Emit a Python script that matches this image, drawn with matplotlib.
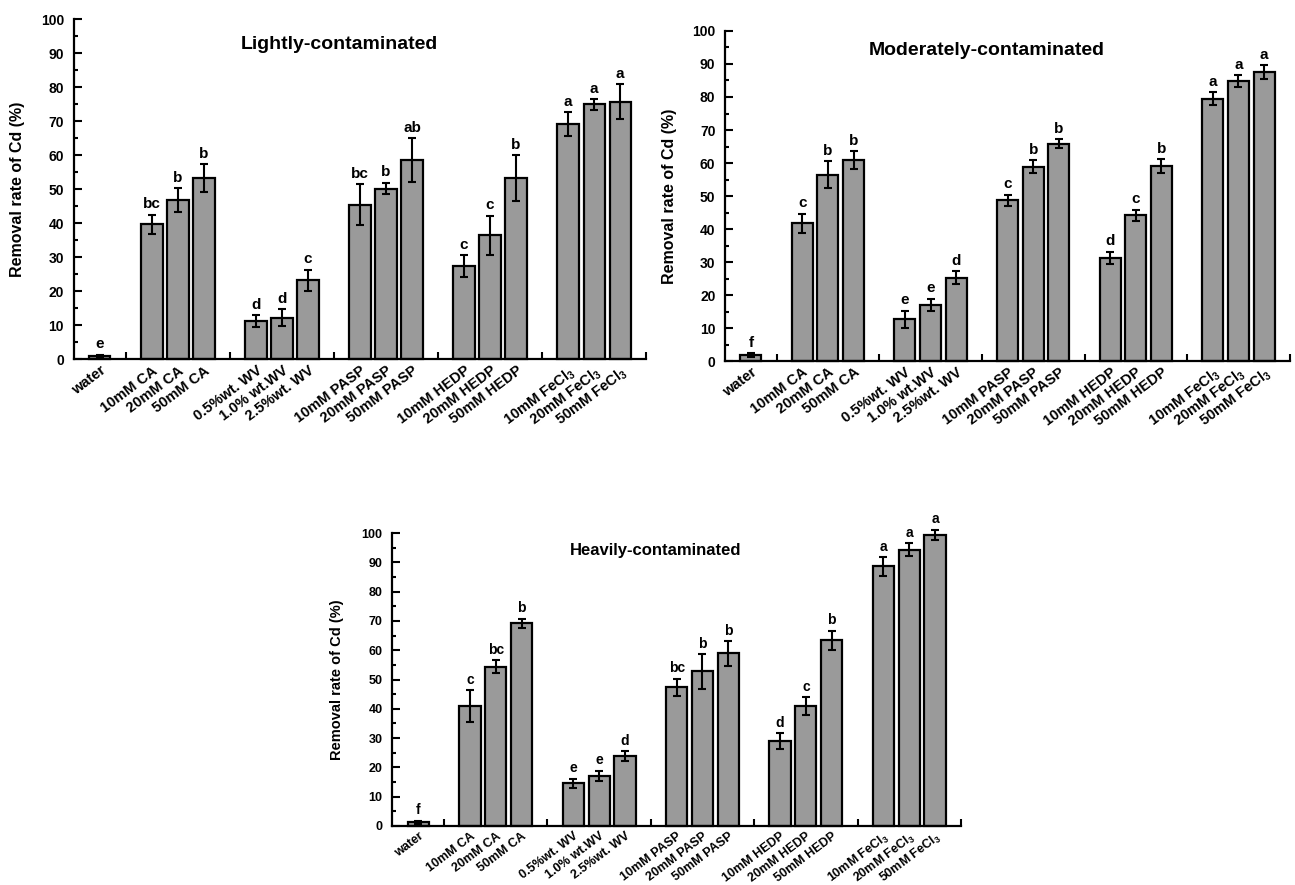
import numpy as np
import matplotlib
matplotlib.use("Agg")
import matplotlib.pyplot as plt
import matplotlib.transforms as mtransforms

plt.rcParams['font.family'] = ['Liberation Sans', 'DejaVu Sans']
plt.rcParams['font.weight'] = 'bold'
plt.rcParams['mathtext.fontset'] = 'custom'
plt.rcParams['mathtext.rm'] = 'Liberation Sans:bold'
plt.rcParams['mathtext.bf'] = 'Liberation Sans:bold'

# treatments
labels = ['water', '10mM CA', '20mM CA', '50mM CA',
          '0.5%wt. WV', '1.0% wt.WV', '2.5%wt. WV',
          '10mM PASP', '20mM PASP', '50mM PASP',
          '10mM HEDP', '20mM HEDP', '50mM HEDP',
          '10mM FeCl$_3$', '20mM FeCl$_3$', '50mM FeCl$_3$']
group_sizes = [1, 3, 3, 3, 3, 3]

# lightly-contaminated soil
light_mean = [0.9, 39.7, 46.8, 53.3, 11.3, 12.3, 23.3, 45.5, 50.2, 58.6, 27.4, 36.5, 53.3, 69.2, 75.0, 75.8]
light_err = [0.4, 2.8, 3.5, 4.1, 1.7, 2.4, 3.1, 6.0, 1.7, 6.5, 3.2, 5.7, 6.8, 3.5, 1.5, 5.1]
light_sig = ['e', 'bc', 'b', 'b', 'd', 'd', 'c', 'bc', 'b', 'ab', 'c', 'c', 'b', 'a', 'a', 'a']

# moderately-contaminated soil
mod_mean = [1.7, 41.7, 56.5, 60.9, 12.6, 17.1, 25.2, 48.7, 58.9, 65.8, 31.3, 44.2, 59.1, 79.5, 84.8, 87.6]
mod_err = [0.6, 3.0, 4.1, 2.7, 2.6, 1.8, 2.0, 1.7, 2.0, 1.4, 1.8, 1.7, 2.1, 1.9, 1.8, 2.1]
mod_sig = ['f', 'c', 'b', 'b', 'e', 'e', 'd', 'c', 'b', 'b', 'd', 'c', 'b', 'a', 'a', 'a']

# heavily-contaminated soil
heavy_mean = [1.2, 41.0, 54.3, 69.2, 14.5, 17.0, 23.9, 47.3, 52.8, 58.9, 29.0, 40.9, 63.4, 88.6, 94.3, 99.4]
heavy_err = [0.6, 5.4, 2.2, 1.6, 1.6, 1.8, 1.7, 3.0, 5.9, 4.2, 2.7, 3.1, 3.3, 3.1, 2.2, 1.8]
heavy_sig = ['f', 'c', 'bc', 'b', 'e', 'e', 'd', 'bc', 'b', 'b', 'd', 'c', 'b', 'a', 'a', 'a']

# bar positions: one empty slot between groups
pos = []
gaps = []
x = 0
for n in group_sizes:
    x += 1
    for i in range(n):
        pos.append(x)
        x += 1
    gaps.append(x)
pos = np.array(pos)

fig = plt.figure(figsize=(12.95, 8.85), dpi=100)


def draw_panel(rect, mean, err, sig, title, fs, xfs, title_fs, title_y):
    ax = fig.add_axes(rect)
    ax.bar(pos, mean, width=0.82, color='#9a9a9a', edgecolor='black',
           linewidth=1.6, clip_on=False, zorder=2)
    ax.errorbar(pos, mean, yerr=err, fmt='none', ecolor='black',
                elinewidth=1.5, capsize=3, capthick=1.5, clip_on=False, zorder=3)
    for xi, m, e, s in zip(pos, mean, err, sig):
        ax.annotate(s, (xi, m + e), xytext=(0, 2.5), textcoords='offset points',
                    ha='center', va='bottom', fontsize=fs + 1,
                    fontweight='bold', annotation_clip=False)
    ax.set_xlim(0, 22)
    ax.set_ylim(0, 100)
    ax.set_yticks(np.arange(0, 101, 10))
    ax.set_yticks(np.arange(5, 100, 10), minor=True)
    ax.set_xticks(pos)
    ax.set_xticklabels(labels, rotation=37, ha='right', va='top',
                       rotation_mode='anchor', fontsize=xfs, fontweight='bold')
    ax.set_xticks(gaps, minor=True)
    offset = mtransforms.ScaledTranslation(8 / 100, 0, fig.dpi_scale_trans)
    for lab in ax.get_xticklabels():
        lab.set_transform(lab.get_transform() + offset)
    for lab in ax.get_yticklabels():
        lab.set_fontweight('bold')
        lab.set_fontsize(fs)
    ax.tick_params(axis='y', which='major', direction='in', length=5.5, width=1.5, pad=7)
    ax.tick_params(axis='y', which='minor', direction='in', length=3, width=1.5)
    ax.tick_params(axis='x', which='major', direction='in', length=3, width=1.5, pad=3)
    ax.tick_params(axis='x', which='minor', direction='in', length=5, width=1.5)
    for sp in ['top', 'right']:
        ax.spines[sp].set_visible(False)
    for sp in ['left', 'bottom']:
        ax.spines[sp].set_linewidth(1.6)
    ax.set_ylabel('Removal rate of Cd (%)', fontsize=fs + 1.5, fontweight='bold')
    ax.yaxis.set_label_coords(-0.085, 0.5)
    ax.text(10.2, title_y, title, ha='center', va='center', fontsize=title_fs, fontweight='bold')
    return ax


draw_panel([0.057, 0.594, 0.442, 0.384], light_mean, light_err, light_sig,
           'Lightly-contaminated', 10, 10.5, 14, 92.5)
draw_panel([0.560, 0.592, 0.436, 0.373], mod_mean, mod_err, mod_sig,
           'Moderately-contaminated', 10, 10.5, 14, 94)
draw_panel([0.303, 0.0667, 0.439, 0.331], heavy_mean, heavy_err, heavy_sig,
           'Heavily-contaminated', 9, 9, 12, 94)

fig.savefig('out.png', dpi=100)
